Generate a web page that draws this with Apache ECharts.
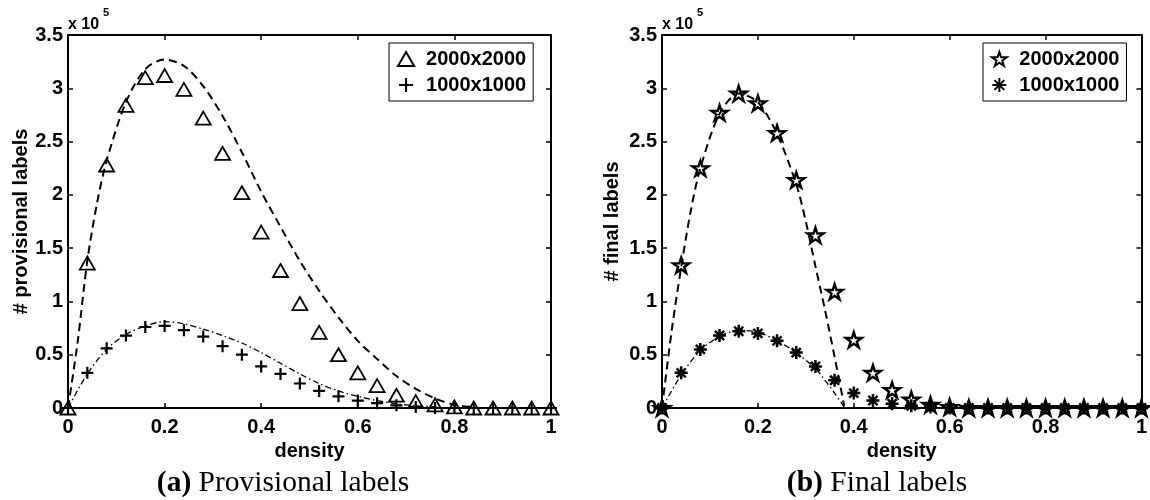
<!DOCTYPE html>
<html>
<head>
<meta charset="utf-8">
<script src="https://cdn.jsdelivr.net/npm/echarts@6/dist/echarts.min.js"></script>
<style>
  html, body { margin: 0; background: #fff; }
  #chart { width: 1150px; height: 500px; }
</style>
</head>
<body>
<div id="chart"></div>
<script>
// density values shared by all marker series
var density = [0, 0.04, 0.08, 0.12, 0.16, 0.2, 0.24, 0.28, 0.32, 0.36, 0.4, 0.44, 0.48,
  0.52, 0.56, 0.6, 0.64, 0.68, 0.72, 0.76, 0.8, 0.84, 0.88, 0.92, 0.96, 1]

// (a) provisional labels, x 10^5
var provLarge = [0, 1.36, 2.28, 2.84, 3.10, 3.12, 2.99, 2.72, 2.39, 2.02, 1.65, 1.29, 0.98,
  0.71, 0.50, 0.33, 0.21, 0.12, 0.06, 0.03, 0.01, 0, 0, 0, 0, 0]
var provSmall = [0, 0.33, 0.56, 0.68, 0.76, 0.77, 0.73, 0.67, 0.58, 0.50, 0.39, 0.32, 0.23,
  0.16, 0.11, 0.07, 0.045, 0.025, 0.01, 0, 0, 0, 0, 0, 0, 0]
var provLargeFitX = [0, 0.02, 0.04, 0.06, 0.08, 0.12, 0.16, 0.2, 0.24, 0.28, 0.32, 0.36, 0.4,
  0.44, 0.48, 0.52, 0.56, 0.6, 0.64, 0.68, 0.72, 0.76, 0.8, 0.84]
var provLargeFitY = [0, 0.62, 1.38, 1.92, 2.32, 2.87, 3.18, 3.27, 3.21, 3.02, 2.74, 2.40, 2.03,
  1.70, 1.38, 1.10, 0.85, 0.63, 0.46, 0.30, 0.18, 0.09, 0.03, 0.01]
var provSmallFitX = [0, 0.04, 0.08, 0.12, 0.16, 0.2, 0.24, 0.28, 0.32, 0.36, 0.4, 0.44, 0.48,
  0.52, 0.56, 0.6, 0.64, 0.68, 0.72, 0.76, 0.8]
var provSmallFitY = [0, 0.32, 0.55, 0.69, 0.77, 0.81, 0.79, 0.74, 0.68, 0.61, 0.52, 0.42, 0.32,
  0.23, 0.16, 0.11, 0.07, 0.04, 0.02, 0.01, 0]

// (b) final labels, x 10^5
var finalLarge = [0, 1.34, 2.25, 2.77, 2.95, 2.86, 2.58, 2.14, 1.62, 1.09, 0.64, 0.33, 0.17,
  0.08, 0.03, 0.01, 0, 0, 0, 0, 0, 0, 0, 0, 0, 0]
var finalSmall = [0, 0.33, 0.55, 0.68, 0.72, 0.70, 0.63, 0.52, 0.39, 0.26, 0.14, 0.07, 0.04,
  0.02, 0.01, 0, 0, 0, 0, 0, 0, 0, 0, 0, 0, 0]
var finalLargeFitX = [0, 0.02, 0.04, 0.06, 0.08, 0.12, 0.16, 0.2, 0.24, 0.28, 0.3, 0.32, 0.34, 0.36, 0.38]
var finalLargeFitY = [0, 0.72, 1.32, 1.85, 2.25, 2.76, 2.95, 2.87, 2.57, 2.10, 1.75, 1.33, 0.92, 0.48, 0.02]
var finalSmallFitX = [0, 0.04, 0.08, 0.12, 0.16, 0.2, 0.24, 0.28, 0.32, 0.34, 0.36, 0.38]
var finalSmallFitY = [0, 0.31, 0.54, 0.67, 0.73, 0.71, 0.63, 0.52, 0.37, 0.26, 0.14, 0.01]

var legendNames = ['2000x2000', '1000x1000']

var FONT = 'Liberation Sans'
var FS = 20
var triPath = 'path://M5,0L10,8.66L0,8.66Z'
var plusPath = 'path://M0,5L10,5M5,0L5,10'
var asteriskPath = 'path://M5,0L5,10M0,5L10,5M1.5,1.5L8.5,8.5M1.5,8.5L8.5,1.5'
var starPath = 'path://M10,0L12.25,6.91L19.51,6.91L13.63,11.18L15.88,18.09L10,13.82L4.12,18.09L6.37,11.18L0.49,6.91L7.76,6.91Z'

function pairs(xs, ys) {
  return xs.map(function (x, i) { return [x, ys[i]] })
}

function xAxes(gridIndex) {
  var common = {
    type: 'value', gridIndex: gridIndex, min: 0, max: 1, interval: 0.2,
    axisLine: { show: true, onZero: false, lineStyle: { color: '#000', width: 2 } },
    axisTick: { show: true, inside: true, length: 5, lineStyle: { color: '#000', width: 1.5 } },
    splitLine: { show: false }
  }
  return [
    Object.assign({}, common, {
      position: 'bottom',
      name: 'density', nameLocation: 'middle', nameGap: 25,
      nameTextStyle: { fontFamily: FONT, fontWeight: 'bold', fontSize: FS, color: '#000' },
      axisLabel: { fontFamily: FONT, fontWeight: 'bold', fontSize: FS, color: '#000', margin: 9 }
    }),
    Object.assign({}, common, { position: 'top', axisLabel: { show: false } })
  ]
}

function yAxes(gridIndex, title, gap) {
  var common = {
    type: 'value', gridIndex: gridIndex, min: 0, max: 3.5, interval: 0.5,
    axisLine: { show: true, onZero: false, lineStyle: { color: '#000', width: 2 } },
    axisTick: { show: true, inside: true, length: 5, lineStyle: { color: '#000', width: 1.5 } },
    splitLine: { show: false }
  }
  return [
    Object.assign({}, common, {
      position: 'left',
      name: title, nameLocation: 'middle', nameGap: gap,
      nameTextStyle: { fontFamily: FONT, fontWeight: 'bold', fontSize: FS, color: '#000' },
      axisLabel: { fontFamily: FONT, fontWeight: 'bold', fontSize: FS, color: '#000', margin: 5 }
    }),
    Object.assign({}, common, { position: 'right', axisLabel: { show: false } })
  ]
}

function fitLine(xs, ys, axis, dash, width) {
  return {
    type: 'line', xAxisIndex: axis, yAxisIndex: axis,
    data: pairs(xs, ys), smooth: 0.3, showSymbol: false, silent: true, z: 2,
    lineStyle: { color: '#000', width: width, type: dash }
  }
}

function markers(name, values, axis, symbol, size, border) {
  return {
    type: 'scatter', name: name, xAxisIndex: axis, yAxisIndex: axis,
    data: pairs(density, values), symbol: symbol, symbolSize: size, symbolKeepAspect: true,
    clip: false, z: 3,
    itemStyle: { color: 'rgba(255,255,255,0)', borderColor: '#000', borderWidth: border, opacity: 1 }
  }
}

function legendFor(left, suffix, icons) {
  return {
    left: left, top: 43, orient: 'vertical',
    borderColor: '#000', borderWidth: 1, borderRadius: 0,
    padding: [5, 7, 5, 8], itemGap: 4, itemWidth: 30, itemHeight: 14,
    selectedMode: false,
    data: legendNames.map(function (n, i) { return { name: n + suffix, icon: icons[i] } }),
    formatter: function (name) { return name.slice(0, 9) },
    textStyle: { fontFamily: FONT, fontWeight: 'bold', fontSize: FS, color: '#000', lineHeight: 22 }
  }
}

var chart = echarts.init(document.getElementById('chart'), null, { renderer: 'canvas' })

chart.setOption({
  backgroundColor: '#fff',
  animation: false,
  grid: [
    { left: 68, top: 35, width: 483, height: 373 },
    { left: 662, top: 35, width: 481, height: 373 }
  ],
  xAxis: xAxes(0).concat(xAxes(1)),
  yAxis: yAxes(0, '# provisional labels', 36).concat(yAxes(1, '# final labels', 40)),
  legend: [
    legendFor(389, ' (a)', [triPath, plusPath]),
    legendFor(983, ' (b)', [starPath, asteriskPath])
  ],
  series: [
    fitLine(provLargeFitX, provLargeFitY, 0, [8, 5], 2),
    fitLine(provSmallFitX, provSmallFitY, 0, [6, 3, 1.5, 3], 1.3),
    markers(legendNames[0] + ' (a)', provLarge, 0, triPath, 15, 1.8),
    markers(legendNames[1] + ' (a)', provSmall, 0, plusPath, 12, 2.2),
    fitLine(finalLargeFitX, finalLargeFitY, 2, [8, 5], 2),
    fitLine(finalSmallFitX, finalSmallFitY, 2, [6, 3, 1.5, 3], 1.3),
    markers(legendNames[0] + ' (b)', finalLarge, 2, starPath, 16, 2.4),
    markers(legendNames[1] + ' (b)', finalSmall, 2, asteriskPath, 13, 2.5)
  ],
  graphic: [
    { type: 'text', left: 68, top: 17, style: { text: 'x 10', font: 'bold 16px "Liberation Sans"', fill: '#000' } },
    { type: 'text', left: 103, top: 7, style: { text: '5', font: 'bold 11px "Liberation Sans"', fill: '#000' } },
    { type: 'text', left: 662, top: 17, style: { text: 'x 10', font: 'bold 16px "Liberation Sans"', fill: '#000' } },
    { type: 'text', left: 697, top: 7, style: { text: '5', font: 'bold 11px "Liberation Sans"', fill: '#000' } },
    {
      type: 'text', x: 283, y: 483,
      style: {
        text: '{b|(a)} Provisional labels', align: 'center', verticalAlign: 'middle',
        font: '29.5px "Liberation Serif"', fill: '#000',
        rich: { b: { font: 'bold 29.5px "Liberation Serif"', fill: '#000' } }
      }
    },
    {
      type: 'text', x: 877, y: 483,
      style: {
        text: '{b|(b)} Final labels', align: 'center', verticalAlign: 'middle',
        font: '29.5px "Liberation Serif"', fill: '#000',
        rich: { b: { font: 'bold 29.5px "Liberation Serif"', fill: '#000' } }
      }
    }
  ]
})
</script>
</body>
</html>
